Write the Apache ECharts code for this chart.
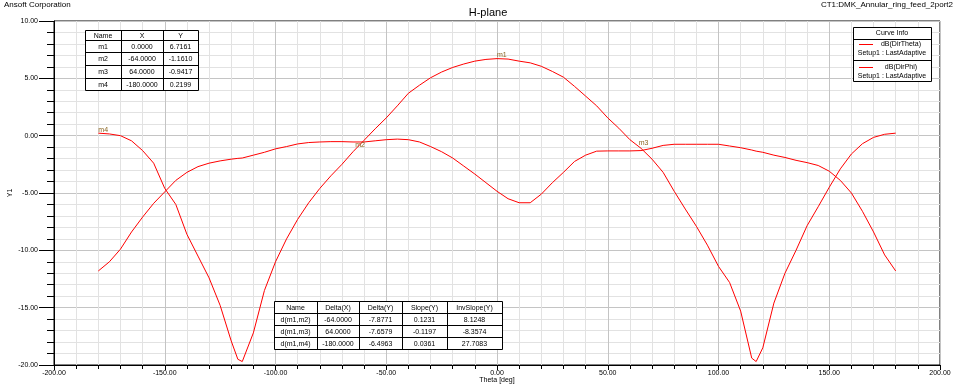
<!DOCTYPE html>
<html><head><meta charset="utf-8">
<script src="https://cdn.jsdelivr.net/npm/echarts@6/dist/echarts.min.js"></script>
<style>html,body{margin:0;padding:0;background:#fff}#c{width:960px;height:388px}</style>
</head><body><div id="c"></div>
<script>
const thetaDeg = [-180,-175,-170,-165,-160,-155,-150,-145,-140,-135,-130,-125,-120,-117,-115,-110,-105,-100,-95,-90,-85,-80,-75,-70,-65,-60,-55,-50,-45,-40,-35,-30,-25,-20,-15,-10,-5,0,5,10,15,20,25,30,35,40,45,50,55,60,65,70,75,80,85,90,95,100,105,110,115,117,120,125,130,135,140,145,150,155,160,165,170,175,180];
const dirTheta = [0.22,0.15,0.0,-0.45,-1.3,-2.4,-4.6,-6.0,-8.6,-10.5,-12.4,-14.8,-17.9,-19.5,-19.7,-17.2,-13.5,-11.0,-9.0,-7.3,-5.85,-4.6,-3.5,-2.5,-1.4,-0.4,0.6,1.55,2.6,3.7,4.4,5.05,5.55,5.95,6.25,6.5,6.65,6.72,6.68,6.5,6.35,6.05,5.6,5.1,4.3,3.45,2.6,1.55,0.65,-0.35,-1.1,-2.05,-3.2,-4.85,-6.4,-7.9,-9.55,-11.4,-12.8,-15.3,-19.4,-19.7,-18.5,-14.6,-12.0,-10.0,-7.85,-6.2,-4.5,-2.9,-1.6,-0.7,-0.15,0.12,0.22];
const dirPhi = [-11.8,-11.0,-9.9,-8.4,-7.1,-5.9,-4.9,-3.9,-3.2,-2.7,-2.4,-2.2,-2.05,-1.98,-1.95,-1.7,-1.45,-1.15,-0.95,-0.72,-0.6,-0.55,-0.52,-0.52,-0.55,-0.55,-0.45,-0.35,-0.3,-0.35,-0.55,-0.95,-1.4,-1.95,-2.65,-3.35,-4.1,-4.85,-5.5,-5.85,-5.85,-5.1,-4.1,-3.2,-2.25,-1.7,-1.35,-1.33,-1.33,-1.33,-1.3,-1.1,-0.85,-0.75,-0.75,-0.75,-0.75,-0.75,-0.9,-1.05,-1.25,-1.35,-1.45,-1.7,-1.9,-2.15,-2.35,-2.6,-3.1,-3.9,-5.0,-6.6,-8.4,-10.4,-11.8];
const seriesNames = ['dB(DirTheta)','dB(DirPhi)'];
const setupLabel = 'Setup1 : LastAdaptive';
const markerNames = ['m1','m2','m3','m4'];
const markerX = [0,-64,64,-180];
const markerY = [6.7161,-1.1610,-0.9417,0.2199];
const markerTableHead = ['Name','X','Y'];
const markerTableRows = [['m1','0.0000','6.7161'],['m2','-64.0000','-1.1610'],['m3','64.0000','-0.9417'],['m4','-180.0000','0.2199']];
const deltaHead = ['Name','Delta(X)','Delta(Y)','Slope(Y)','InvSlope(Y)'];
const deltaRows = [['d(m1,m2)','-64.0000','-7.8771','0.1231','8.1248'],['d(m1,m3)','64.0000','-7.6579','-0.1197','-8.3574'],['d(m1,m4)','-180.0000','-6.4963','0.0361','27.7083']];

const FONT = 'Liberation Sans, Arial, sans-serif';
const chart = echarts.init(document.getElementById('c'), null, {renderer:'canvas'});

function table(x, y, colW, rowH, rows, fs) {
  const els = [];
  const W = colW.reduce((a,b)=>a+b,0), H = rowH.reduce((a,b)=>a+b,0);
  els.push({type:'rect', shape:{x:x+0.5,y:y+0.5,width:W,height:H}, style:{fill:'#fff',stroke:'#000',lineWidth:1}, z:100});
  let cx = x;
  for (let i=0;i<colW.length-1;i++){ cx += colW[i]; els.push({type:'line', shape:{x1:cx+0.5,y1:y,x2:cx+0.5,y2:y+H}, style:{stroke:'#000',lineWidth:1}, z:101}); }
  let cy = y;
  for (let j=0;j<rowH.length-1;j++){ cy += rowH[j]; els.push({type:'line', shape:{x1:x,y1:cy+0.5,x2:x+W,y2:cy+0.5}, style:{stroke:'#000',lineWidth:1}, z:101}); }
  cy = y;
  rows.forEach((r,j)=>{
    let cx2 = x;
    r.forEach((t,i)=>{
      els.push({type:'text', x:cx2+colW[i]/2, y:cy+rowH[j]/2+1, style:{text:t, fill:'#000', font:fs+'px '+FONT, align:'center', verticalAlign:'middle'}, z:102});
      cx2 += colW[i];
    });
    cy += rowH[j];
  });
  return els;
}

const graphics = [];
graphics.push({type:'text', x:4, y:1, style:{text:'Ansoft Corporation', fill:'#000', font:'8px '+FONT}});
graphics.push({type:'text', x:953, y:1, style:{text:'CT1:DMK_Annular_ring_feed_2port2', fill:'#000', font:'8px '+FONT, align:'right'}});
graphics.push(...table(85, 30, [36,42,35], [10,12,13,13,12], [markerTableHead].concat(markerTableRows), 7));
graphics.push(...table(274, 301, [43,42,43,45,55], [12,12,12,12], [deltaHead].concat(deltaRows), 7));
// curve info box
graphics.push({type:'rect', shape:{x:853.5,y:27.5,width:78,height:54}, style:{fill:'#fff',stroke:'#000',lineWidth:1}, z:100});
graphics.push({type:'line', shape:{x1:853,y1:39.5,x2:932,y2:39.5}, style:{stroke:'#000',lineWidth:1}, z:101});
graphics.push({type:'line', shape:{x1:853,y1:60.5,x2:932,y2:60.5}, style:{stroke:'#000',lineWidth:1}, z:101});
graphics.push({type:'text', x:892, y:33.5, style:{text:'Curve Info', fill:'#000', font:'7px '+FONT, align:'center', verticalAlign:'middle'}, z:102});
seriesNames.forEach((n,i)=>{
  const yy = 44 + i*23;
  graphics.push({type:'rect', shape:{x:859,y:yy,width:14,height:1}, style:{fill:'#ff0000'}, z:103});
  graphics.push({type:'text', x:901, y:yy, style:{text:n, fill:'#000', font:'7px '+FONT, align:'center', verticalAlign:'middle'}, z:102});
  graphics.push({type:'text', x:892, y:yy+9.5, style:{text:setupLabel, fill:'#000', font:'7px '+FONT, align:'center', verticalAlign:'middle'}, z:102});
});

const markData = markerNames.map((n,i)=>({name:n, coord:[markerX[i], markerY[i]], value:n}));

chart.setOption({
  animation:false,
  backgroundColor:'#fff',
  title:{text:'H-plane', left:483, top:2, textAlign:'center', textStyle:{fontSize:11, fontWeight:'normal', color:'#000', fontFamily:FONT}},
  grid:{left:54, right:20, top:21, bottom:23, containLabel:false, outerBoundsMode:'none', show:true, borderColor:'#000', borderWidth:1, backgroundColor:'#fff'},
  xAxis:{type:'value', min:-200, max:200, interval:50,
    name:'Theta [deg]', nameLocation:'middle', nameGap:12, nameMoveOverlap:false, nameTextStyle:{fontSize:7, color:'#000', fontFamily:FONT},
    axisLine:{onZero:false, lineStyle:{color:'#000'}}, axisTick:{show:true, length:5, lineStyle:{color:'#000'}},
    minorTick:{show:true, splitNumber:5, length:4, lineStyle:{color:'#000'}},
    axisLabel:{fontSize:7, color:'#000', fontFamily:FONT, margin:5, formatter:v=>v.toFixed(2)},
    splitLine:{show:true, lineStyle:{color:'#c4c4c4', width:1}},
    minorSplitLine:{show:true, lineStyle:{color:'#e2e2e2', width:1}}},
  yAxis:{type:'value', min:-20, max:10, interval:5,
    name:'Y1', nameLocation:'middle', nameGap:40, nameMoveOverlap:false, nameTextStyle:{fontSize:7, color:'#000', fontFamily:FONT},
    axisLine:{onZero:false, lineStyle:{color:'#000'}}, axisTick:{show:true, length:15, lineStyle:{color:'#000'}},
    minorTick:{show:true, splitNumber:5, length:7, lineStyle:{color:'#000'}},
    axisLabel:{fontSize:7, color:'#000', fontFamily:FONT, margin:16, formatter:v=>v.toFixed(2)},
    splitLine:{show:true, lineStyle:{color:'#c4c4c4', width:1}},
    minorSplitLine:{show:true, lineStyle:{color:'#e2e2e2', width:1}}},
  series:[
    {name:seriesNames[0], type:'line', data:thetaDeg.map((t,i)=>[t,dirTheta[i]]), showSymbol:false, symbol:'none',
     lineStyle:{color:'#ff0000', width:1}, itemStyle:{color:'#ff0000'},
     markPoint:{symbol:'circle', symbolSize:0, data:markData,
       label:{show:true, position:[0,0], align:'left', verticalAlign:'bottom', formatter:p=>p.name, fontSize:7, color:'#8a6420', fontFamily:FONT}}},
    {name:seriesNames[1], type:'line', data:thetaDeg.map((t,i)=>[t,dirPhi[i]]), showSymbol:false, symbol:'none',
     lineStyle:{color:'#ff0000', width:1}, itemStyle:{color:'#ff0000'}}
  ],
  graphic:graphics
});
</script></body></html>
